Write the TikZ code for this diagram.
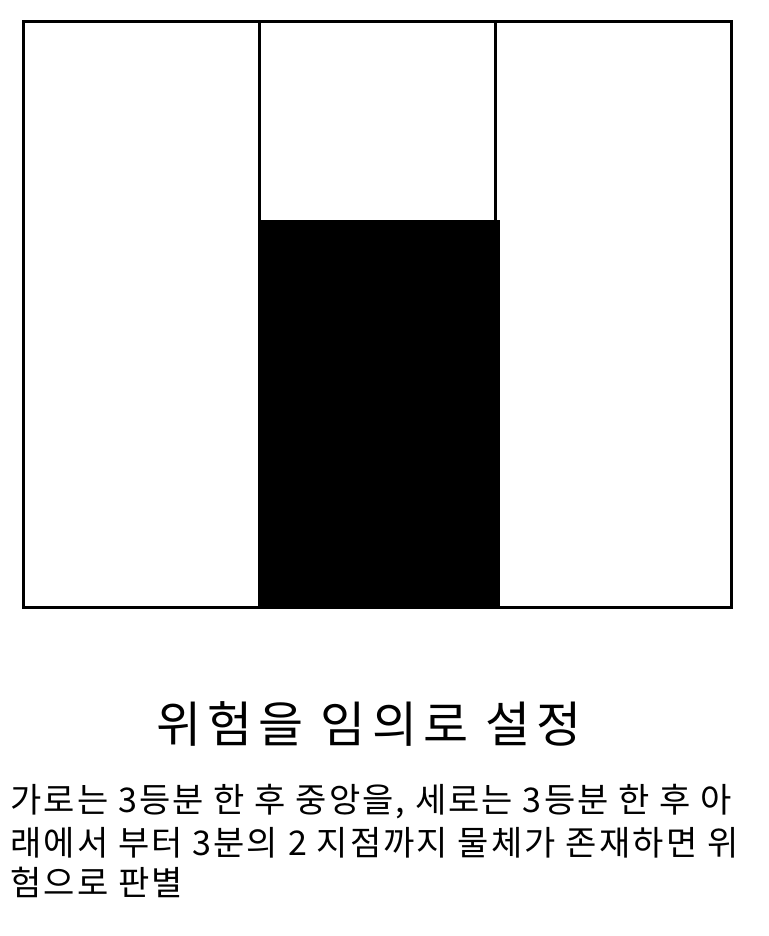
\documentclass[tikz,border=0pt]{standalone}
\usepackage{fontspec}
\newfontfamily\krtitle[LetterSpace=12.3]{Noto Sans CJK KR}
\newfontfamily\krbody[LetterSpace=6.3]{Noto Sans CJK KR}
\tikzset{
  frame/.style={draw=black, line width=3pt},
  hazard/.style={fill=black},
  title/.style={font=\krtitle\fontsize{49}{54}\selectfont, anchor=center, inner sep=0pt},
  body/.style={font=\krbody\fontsize{34}{40}\selectfont, anchor=base west, inner sep=0pt}
}
\begin{document}
\begin{tikzpicture}[x=1pt,y=-1pt]
\useasboundingbox (0,0) rectangle (768,936);
% hazard block (middle column, lower two thirds)
\fill[hazard] (258,220) rectangle (500,607.5);
% outer frame
\draw[frame] (23.5,21.5) rectangle (731.5,607.5);
% column dividers
\coordinate (d1t) at (259.5,21.5);
\coordinate (d1b) at (259.5,220);
\coordinate (d2t) at (495.5,21.5);
\coordinate (d2b) at (495.5,220);
\draw[frame] (d1t) -- (d1b);
\draw[frame] (d2t) -- (d2b);
% texts
\node[title] (t) at (369,724) {위험을 임의로 설정};
\node[body] (l1) at (10,812) {가로는 3등분 한 후 중앙을, 세로는 3등분 한 후 아};
\node[body] (l2) at (10,855) {래에서 부터 3분의 2 지점까지 물체가 존재하면 위};
\node[body] (l3) at (10,895) {험으로 판별};
\end{tikzpicture}
\end{document}
